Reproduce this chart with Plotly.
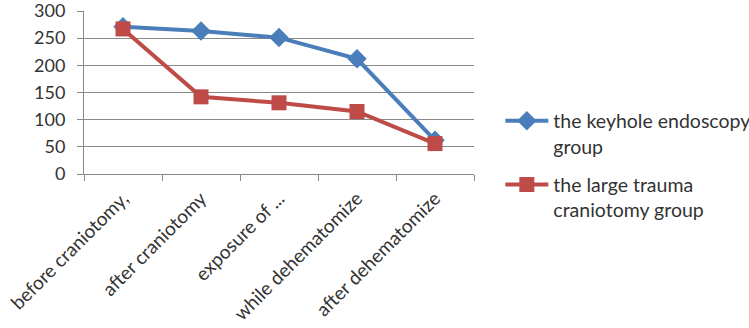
import plotly.graph_objects as go

categories = ["before craniotomy,", "after craniotomy", "exposure of ...", "while dehematomize", "after dehematomize"]
keyhole = [271, 263, 251, 212, 62]
large_trauma = [267, 142, 131, 115, 56]
series_names = ["the keyhole endoscopy<br>group", "the large trauma<br>craniotomy group"]
y_ticks = [0, 50, 100, 150, 200, 250, 300]

BLUE = "#4a7ebb"
RED = "#be4b48"
FONT = "Lato, 'Open Sans', sans-serif"

fig = go.Figure()
fig.add_trace(go.Scatter(
    x=categories, y=keyhole, name=series_names[0], mode="lines+markers",
    legendgroup="keyhole",
    line=dict(color=BLUE, width=4),
    marker=dict(symbol="diamond", size=15, color=BLUE),
))
fig.add_trace(go.Scatter(
    x=categories, y=large_trauma, name=series_names[1], mode="lines+markers",
    legendgroup="large",
    line=dict(color=RED, width=4),
    marker=dict(symbol="square", size=15, color=RED),
))

fig.update_layout(
    width=749, height=328,
    margin=dict(l=84, r=275, t=11, b=154, autoexpand=False),
    paper_bgcolor="white", plot_bgcolor="white",
    font=dict(family=FONT, size=18, color="#333333"),
    showlegend=True,
    legend=dict(
        xref="container", yref="container", x=0.668, y=0.69,
        xanchor="left", yanchor="top", valign="top",
        font=dict(size=19.5, color="#333333"),
        tracegroupgap=10, itemwidth=43,
    ),
    xaxis=dict(
        type="category", tickson="boundaries", ticks="outside", ticklen=6,
        tickcolor="#888888", showline=True, linecolor="#888888", linewidth=1,
        showgrid=False, tickangle=-45, range=[-0.5, 4.5], automargin=False,
        ticklabelstandoff=5,
        tickfont=dict(size=19, color="#333333"),
    ),
    yaxis=dict(
        range=[0, 300], tickvals=y_ticks, ticks="outside", ticklen=6,
        tickcolor="#888888", showline=True, linecolor="#888888", linewidth=1,
        showgrid=True, gridcolor="#888888", gridwidth=1, zeroline=False,
        automargin=False, ticklabeloverflow="allow", ticklabelstandoff=8,
        tickfont=dict(size=18, color="#333333"),
    ),
)

fig.write_html("out.html", config={"displayModeBar": False},
               post_script="document.body.style.margin='0';")
